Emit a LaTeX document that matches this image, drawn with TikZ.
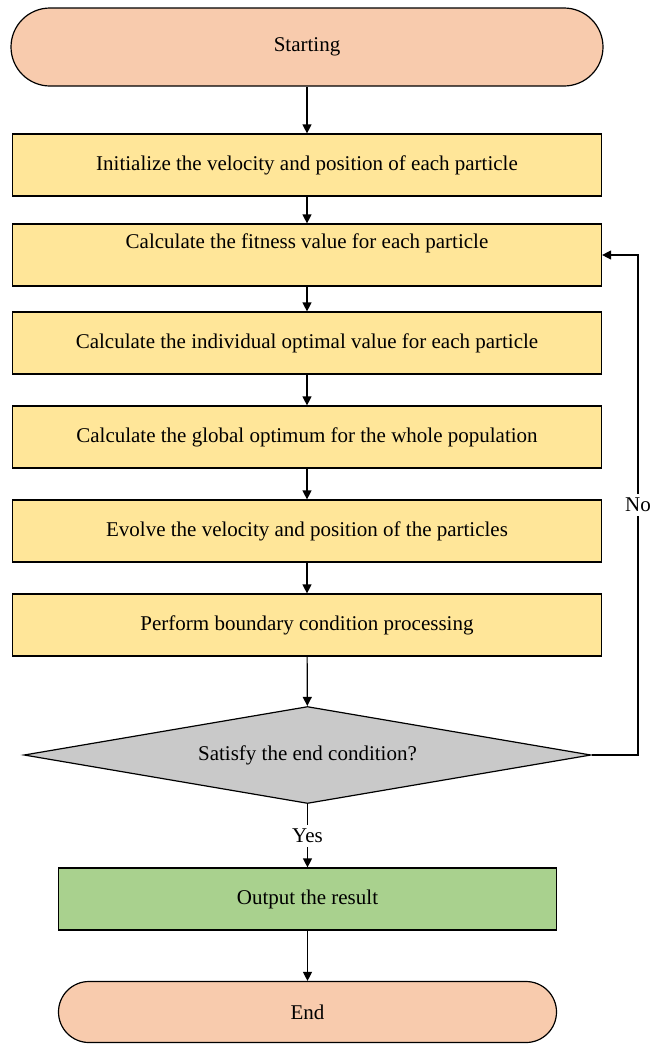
\documentclass[tikz,border=0pt]{standalone}
\usepackage{fontspec}
\setmainfont{Liberation Serif}
\usetikzlibrary{arrows.meta,shapes.geometric}
\definecolor{peach}{HTML}{F8CBAD}
\definecolor{boxyellow}{HTML}{FFE699}
\definecolor{decgray}{HTML}{C9C9C9}
\definecolor{outgreen}{HTML}{A9D18E}
\begin{document}
\begin{tikzpicture}[x=0.5pt,y=-0.5pt,
  font=\fontsize{10.5}{12.6}\selectfont,
  terminal/.style={draw, line width=0.6pt, fill=peach, inner sep=0pt},
  procbox/.style={draw, line width=0.6pt, fill=boxyellow, minimum width=294.5pt, minimum height=31pt, inner sep=0pt},
  decision/.style={draw, line width=0.6pt, fill=decgray, diamond, shape aspect=5.85, minimum width=283.5pt, minimum height=48.5pt, inner sep=0pt},
  outbox/.style={draw, line width=0.6pt, fill=outgreen, minimum width=249pt, minimum height=31pt, inner sep=0pt},
  flow/.style={line width=0.6pt, -{Triangle[length=4.5pt,width=4.5pt]}},
  edgelabel/.style={fill=white, inner sep=2pt}
]
\useasboundingbox (0,0) rectangle (649,1045);

\node[terminal, minimum width=296pt, minimum height=39pt, rounded corners=19.5pt] (start) at (307,47) {Starting};
\node[procbox] (b1) at (307,165) {Initialize the velocity and position of each particle};
\node[procbox] (b2) at (307,255) {};
\node (b2t) at (307,243) {Calculate the fitness value for each particle};
\node[procbox] (b3) at (307,343) {Calculate the individual optimal value for each particle};
\node[procbox] (b4) at (307,437) {Calculate the global optimum for the whole population};
\node[procbox] (b5) at (307,531) {Evolve the velocity and position of the particles};
\node[procbox] (b6) at (307,625) {Perform boundary condition processing};
\node[decision] (dec) at (307.5,755) {Satisfy the end condition?};
\node[outbox] (out) at (307.5,899) {Output the result};
\node[terminal, minimum width=249pt, minimum height=30.5pt, rounded corners=15.25pt] (end) at (307.5,1012) {End};

\coordinate (c1) at (638,755);
\coordinate (c2) at (638,255);

\draw[flow] (start) -- (b1);
\draw[flow] (b1) -- (b2);
\draw[flow] (b2) -- (b3);
\draw[flow] (b3) -- (b4);
\draw[flow] (b4) -- (b5);
\draw[flow] (b5) -- (b6);
\draw[flow] (b6) -- (dec);
\draw[flow] (dec) -- node[edgelabel] (yes) {Yes} (out);
\draw[flow] (out) -- (end);
\draw[flow] (dec.east) -- (c1) -- node[edgelabel, pos=0.5] (no) {No} (c2) -- (b2.east);
\end{tikzpicture}
\end{document}
